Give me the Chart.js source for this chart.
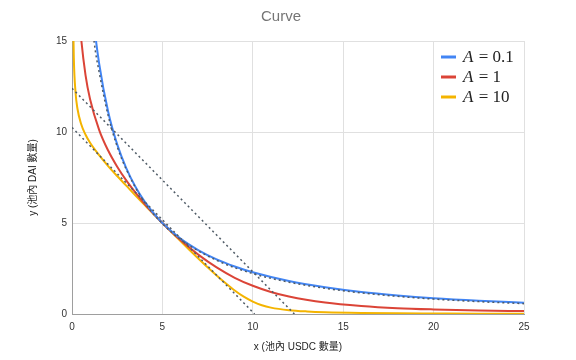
<!DOCTYPE html>
<html><head><meta charset="utf-8">
<script src="https://cdn.jsdelivr.net/npm/chart.js@4.4.1/dist/chart.umd.min.js"></script>
<style>html,body{margin:0;padding:0;background:#fff}</style>
</head><body>
<canvas id="c" width="576" height="360"></canvas>
<script>
// ---- data ----
const chartTitle = 'Curve';
const xAxisTitle = 'x (池內 USDC 數量)';
const yAxisTitle = 'y (池內 DAI 數量)';
const seriesA = ['0.1', '1', '10'];
const xTicks = [0, 5, 10, 15, 20, 25];
const yTicks = [0, 5, 10, 15];

const xBlue = [1, 1.25, 1.5, 2, 2.5, 3, 3.5, 4, 4.5, 5, 6, 7, 8, 9, 10, 12, 14, 16, 18, 20, 22.5, 25];
const yBlue = [18.25, 15.67, 13.77, 11.11, 9.32, 8.01, 7.00, 6.20, 5.55, 5.00, 4.14, 3.50, 3.00, 2.61, 2.29, 1.81, 1.47, 1.21, 1.02, 0.87, 0.73, 0.62];

const xRed = [0.4, 0.5, 0.75, 1, 1.5, 2, 2.5, 3, 3.5, 4, 4.5, 5, 6, 7, 8, 9, 10, 11, 12, 14, 16, 18, 20, 22.5, 25];
const yRed = [16.54, 15.21, 13.11, 11.80, 10.12, 8.98, 8.09, 7.34, 6.68, 6.07, 5.52, 5.00, 4.06, 3.25, 2.56, 1.99, 1.55, 1.21, 0.96, 0.63, 0.44, 0.32, 0.25, 0.19, 0.16];

const xYellow = [0.05, 0.1, 0.2, 0.3, 0.5, 0.75, 1, 1.5, 2, 2.5, 3, 3.5, 4, 4.5, 5, 5.5, 6, 6.5, 7, 7.5, 8, 8.5, 9, 9.5, 10, 10.5, 11, 12, 13, 14, 16, 18, 20, 22.5, 25];
const yYellow = [17.04, 14.09, 12.13, 11.29, 10.45, 9.85, 9.41, 8.73, 8.13, 7.58, 7.05, 6.52, 6.01, 5.50, 5.00, 4.50, 4.01, 3.52, 3.04, 2.57, 2.12, 1.69, 1.29, 0.95, 0.68, 0.48, 0.35, 0.21, 0.14, 0.10, 0.06, 0.04, 0.03, 0.02, 0.02];

const xDotCurve = [1.1, 1.22, 1.5, 2, 2.5, 3, 4, 5, 6, 8, 10, 12, 14, 16, 18, 20, 22.5, 25];
const yDotCurve = [16.4, 15.0, 13.3, 10.9, 9.2, 7.95, 6.15, 4.97, 4.10, 2.95, 2.22, 1.75, 1.41, 1.16, 0.97, 0.82, 0.68, 0.57];

const xDotLineA = [0, 10.1];
const yDotLineA = [10.25, 0];
const xDotLineB = [0, 12.3];
const yDotLineB = [12.4, 0];

const colors = ['#4285F4', '#DB4437', '#F4B400'];
const dotColor = '#4f5b66';

function pts(xs, ys) { return xs.map((x, i) => ({ x: x, y: ys[i] })); }

const curveStyle = (c) => ({ borderColor: c, backgroundColor: c, borderWidth: 2, pointRadius: 0, showLine: true, cubicInterpolationMode: 'monotone', fill: false });
const dotStyle = { borderColor: dotColor, backgroundColor: dotColor, borderWidth: 1.5, borderDash: [2, 3], pointRadius: 0, showLine: true, cubicInterpolationMode: 'monotone', fill: false };

const titlePlugin = {
  id: 'titleDraw',
  afterDraw(chart) {
    const ctx = chart.ctx;
    ctx.save();
    ctx.font = '15px "Liberation Sans", Arial, sans-serif';
    ctx.fillStyle = '#757575';
    ctx.textAlign = 'center';
    ctx.textBaseline = 'middle';
    ctx.fillText(chartTitle, 281, 17);
    ctx.restore();
  }
};

const legendPlugin = {
  id: 'inLegend',
  afterDatasetsDraw(chart) {
    const ctx = chart.ctx;
    ctx.save();
    const x0 = 441, rowY = [57, 77, 97];
    seriesA.forEach((a, i) => {
      const y = rowY[i];
      ctx.strokeStyle = colors[i];
      ctx.lineWidth = 3;
      ctx.beginPath(); ctx.moveTo(x0, y); ctx.lineTo(x0 + 15, y); ctx.stroke();
      ctx.fillStyle = '#222';
      ctx.textBaseline = 'middle';
      ctx.textAlign = 'left';
      ctx.font = 'italic 17px "Liberation Serif", "DejaVu Serif", serif';
      ctx.fillText('A', x0 + 22, y + 1);
      const w = ctx.measureText('A').width;
      ctx.font = '17px "Liberation Serif", "DejaVu Serif", serif';
      ctx.fillText(' = ' + a, x0 + 22 + w + 1, y + 1);
    });
    ctx.restore();
  }
};

const tickFont = { family: '"Liberation Sans", Arial, sans-serif', size: 10 };
const axTitleFont = { family: '"Liberation Sans", "Noto Sans CJK TC", sans-serif', size: 10 };

new Chart(document.getElementById('c'), {
  type: 'scatter',
  data: {
    datasets: [
      Object.assign({ label: 'dot curve', data: pts(xDotCurve, yDotCurve) }, dotStyle),
      Object.assign({ label: 'dot line A', data: pts(xDotLineA, yDotLineA) }, dotStyle),
      Object.assign({ label: 'dot line B', data: pts(xDotLineB, yDotLineB) }, dotStyle),
      Object.assign({ label: 'A = ' + seriesA[0], data: pts(xBlue, yBlue) }, curveStyle(colors[0])),
      Object.assign({ label: 'A = ' + seriesA[1], data: pts(xRed, yRed) }, curveStyle(colors[1])),
      Object.assign({ label: 'A = ' + seriesA[2], data: pts(xYellow, yYellow) }, curveStyle(colors[2]))
    ]
  },
  options: {
    responsive: false,
    animation: false,
    layout: { padding: { top: 41, right: 52, left: 0, bottom: 0 } },
    plugins: { legend: { display: false }, title: { display: false }, tooltip: { enabled: false } },
    scales: {
      x: {
        type: 'linear', min: 0, max: 25,
        afterBuildTicks: (s) => { s.ticks = xTicks.map(v => ({ value: v })); },
        afterFit: (s) => { s.height = 46; },
        grid: { color: '#e0e0e0', drawTicks: false },
        border: { color: '#9e9e9e', width: 1 },
        ticks: { font: tickFont, color: '#333', padding: 7, maxRotation: 0 },
        title: { display: true, text: xAxisTitle, font: axTitleFont, color: '#222', padding: { top: 0, bottom: 7 } }
      },
      y: {
        type: 'linear', min: 0, max: 15,
        afterBuildTicks: (s) => { s.ticks = yTicks.map(v => ({ value: v })); },
        afterFit: (s) => { s.width = 72; },
        grid: { color: '#e0e0e0', drawTicks: false },
        border: { color: '#9e9e9e', width: 1 },
        ticks: { font: tickFont, color: '#333', padding: 5 },
        title: { display: true, text: yAxisTitle, font: axTitleFont, color: '#222', padding: { top: 27, bottom: 0 } }
      }
    }
  },
  plugins: [titlePlugin, legendPlugin]
});
</script>
</body></html>
